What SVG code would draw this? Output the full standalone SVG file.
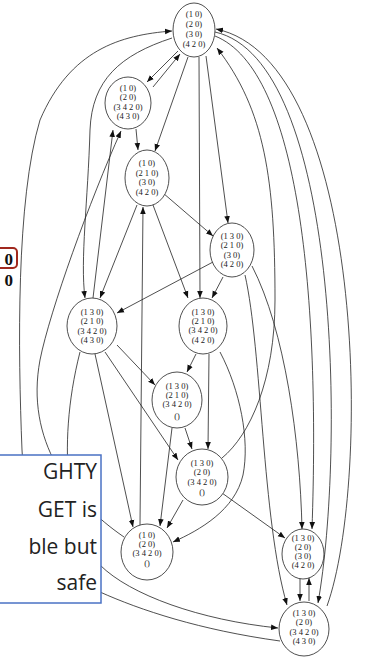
<svg xmlns="http://www.w3.org/2000/svg" width="373" height="657" viewBox="0 0 373 657">
<style>
  .n ellipse { fill: #fff; stroke: #222; stroke-width: 0.8; }
  .n text { font-family: "Liberation Serif", serif; font-size: 8.5px; fill: #1a1a1a; text-anchor: middle; }
  .e path { fill: none; stroke: #222; stroke-width: 0.8; marker-end: url(#ah); }
  .co { font-family: "Open Sans", "Liberation Sans", sans-serif; font-size: 21px; fill: #222; text-anchor: end; }
</style>
<defs>
  <marker id="ah" viewBox="0 0 10 10" refX="10" refY="5" markerWidth="7" markerHeight="7" markerUnits="userSpaceOnUse" orient="auto">
    <path d="M0,1 L10,5 L0,9 z" fill="#111"/>
  </marker>
</defs>
<rect width="373" height="657" fill="#fff"/>

<!-- slide fragments on the left -->
<rect x="-6" y="248" width="23" height="20" rx="4" fill="none" stroke="#a0281e" stroke-width="2"/>
<text x="13" y="265" font-family="Liberation Serif, serif" font-weight="bold" font-size="17" fill="#111" text-anchor="end">0</text>
<text x="13" y="286" font-family="Liberation Serif, serif" font-weight="bold" font-size="17" fill="#111" text-anchor="end">0</text>

<g class="e" id="edges">
  <!-- top part -->
  <path d="M178,51 L147,82"/>
  <path d="M153,87 L180,54"/>
  <path d="M188,57 L155,151"/>
  <path d="M136,129 L138,150"/>
  <path d="M199,57 L200,298"/>
  <path d="M206,56 L228,223"/>
  <path d="M163,193 L213,236"/>
  <path d="M213,262 L117,313"/>
  <path d="M223,277 L212,298"/>
  <path d="M153,205 L188,298"/>
  <path d="M137,205 L100,298"/>
  <path d="M172,38 C120,55 92,80 90,130 C88,200 80,260 85,298"/>
  <path d="M93,298 L113,130"/>
  <path d="M124,537 C70,500 25,440 40,360 C50,310 90,200 121,131"/>
  <path d="M140,525 L143,207"/>
  <!-- middle -->
  <path d="M117,345 L155,385"/>
  <path d="M105,352 L178,460"/>
  <path d="M95,354 L133,527"/>
  <path d="M196,354 L187,372"/>
  <path d="M209,354 L208,449"/>
  <path d="M220,352 C240,390 250,440 243,475 C235,510 200,530 173,542"/>
  <path d="M185,428 L192,449"/>
  <path d="M172,428 L160,526"/>
  <path d="M183,500 L167,528"/>
  <path d="M222,493 L285,538"/>
  <!-- right side -->
  <path d="M252,266 C285,330 300,440 302,529"/>
  <path d="M245,275 C262,350 262,520 287,605"/>
  <path d="M215,36 C300,70 320,300 312,529"/>
  <path d="M215,32 C340,60 345,450 318,603"/>
  <path d="M327,606 C372,480 365,60 216,29"/>
  <path d="M222,458 C250,435 275,380 275,300 C275,180 265,110 217,48"/>
  <path d="M300,578 L300,601"/>
  <path d="M309,601 L309,578"/>
  <!-- bottom-left sweeps -->
  <path d="M280,641 C200,630 140,610 100,592 C50,570 25,520 22,450 C18,350 16,200 40,120 C70,50 120,35 172,31"/>
  <path d="M80,352 C55,450 70,540 100,565 C130,595 200,620 278,628"/>
</g>

<g class="n" id="n1"><ellipse cx="194" cy="30" rx="21" ry="27"/><text x="194" y="17">(1 0)</text><text x="194" y="27">(2 0)</text><text x="194" y="37">(3 0)</text><text x="194" y="47">(4 2 0)</text></g>
<g class="n" id="n2"><ellipse cx="128" cy="103" rx="23" ry="26"/><text x="128" y="91">(1 0)</text><text x="128" y="100">(2 0)</text><text x="128" y="110">(3 4 2 0)</text><text x="128" y="119">(4 3 0)</text></g>
<g class="n" id="n3"><ellipse cx="147" cy="178" rx="22" ry="28"/><text x="147" y="166">(1 0)</text><text x="147" y="176">(2 1 0)</text><text x="147" y="185">(3 0)</text><text x="147" y="195">(4 2 0)</text></g>
<g class="n" id="n4"><ellipse cx="232" cy="250" rx="22" ry="27"/><text x="232" y="239">(1 3 0)</text><text x="232" y="248">(2 1 0)</text><text x="232" y="258">(3 0)</text><text x="232" y="267">(4 2 0)</text></g>
<g class="n" id="n5"><ellipse cx="92" cy="326" rx="25" ry="28"/><text x="92" y="315">(1 3 0)</text><text x="92" y="324">(2 1 0)</text><text x="92" y="334">(3 4 2 0)</text><text x="92" y="343">(4 3 0)</text></g>
<g class="n" id="n6"><ellipse cx="203" cy="326" rx="24" ry="28"/><text x="203" y="315">(1 3 0)</text><text x="203" y="324">(2 1 0)</text><text x="203" y="333">(3 4 2 0)</text><text x="203" y="343">(4 2 0)</text></g>
<g class="n" id="n7"><ellipse cx="177" cy="400" rx="25" ry="28"/><text x="177" y="389">(1 3 0)</text><text x="177" y="398">(2 1 0)</text><text x="177" y="407">(3 4 2 0)</text><text x="177" y="419">()</text></g>
<g class="n" id="n8"><ellipse cx="202" cy="477" rx="26" ry="28"/><text x="202" y="466">(1 3 0)</text><text x="202" y="475">(2 0)</text><text x="202" y="485">(3 4 2 0)</text><text x="202" y="495">()</text></g>
<g class="n" id="n9"><ellipse cx="147" cy="552" rx="26" ry="28"/><text x="147" y="538">(1 0)</text><text x="147" y="547">(2 0)</text><text x="147" y="556">(3 4 2 0)</text><text x="147" y="566">()</text></g>
<g class="n" id="n10"><ellipse cx="303" cy="554" rx="21" ry="25"/><text x="303" y="541">(1 3 0)</text><text x="303" y="550">(2 0)</text><text x="303" y="559">(3 0)</text><text x="303" y="568">(4 2 0)</text></g>
<g class="n" id="n11"><ellipse cx="304" cy="629" rx="25" ry="27"/><text x="304" y="616">(1 3 0)</text><text x="304" y="625">(2 0)</text><text x="304" y="635">(3 4 2 0)</text><text x="304" y="644">(4 3 0)</text></g>

<!-- callout box -->
<g id="callout">
  <rect x="-5" y="455" width="106" height="148" fill="#fff" stroke="#4a72c4" stroke-width="1.5"/>
  <text class="co" x="97" y="479">GHTY</text>
  <text class="co" x="97" y="517">GET is</text>
  <text class="co" x="97" y="554">ble but</text>
  <text class="co" x="97" y="590">safe</text>
</g>
</svg>
